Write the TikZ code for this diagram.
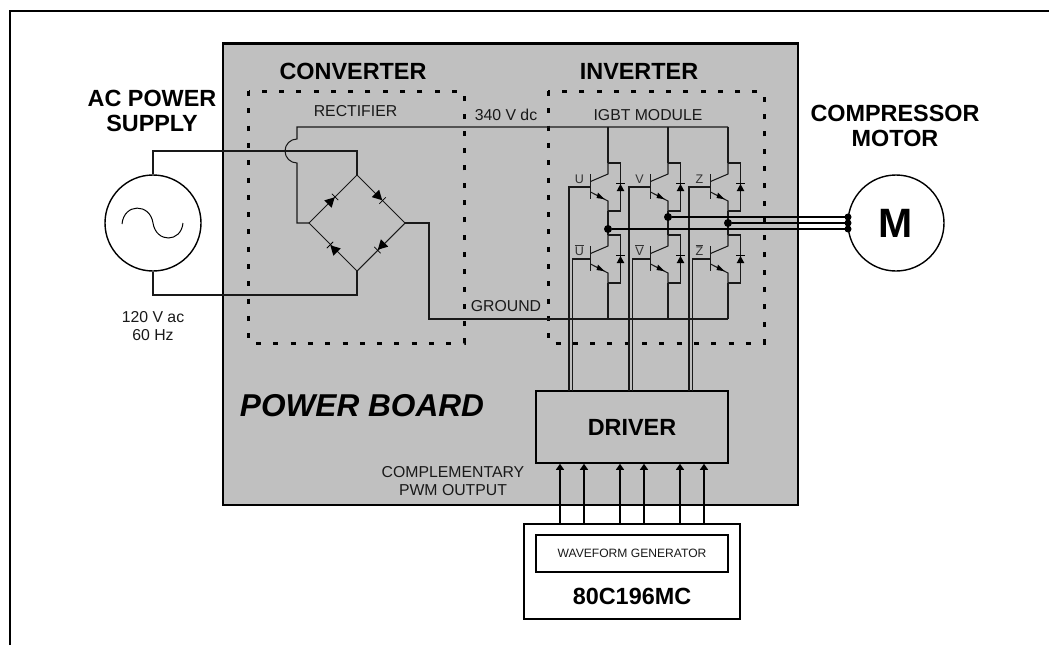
\documentclass[tikz,border=0pt]{standalone}
\usepackage{fontspec}
\setmainfont{Liberation Sans}
\usetikzlibrary{calc,arrows.meta}
\definecolor{boardgray}{gray}{0.753}
\newcommand{\fs}[1]{\fontsize{#1}{#1}\selectfont}
\tikzset{
  x=1pt,y=-1pt,
  wire/.style={draw=black!90,line width=1.05pt},
  heavy/.style={draw=black,line width=1.7pt},
  box/.style={draw=black,line width=1.6pt,inner sep=0pt,outer sep=0pt},
  round/.style={circle,draw=black,line width=1.4pt,minimum size=96pt,inner sep=0pt},
  dotbox/.style={draw=black,line width=3pt,dash pattern=on 5pt off 12.3pt},
  big/.style={font=\fs{23.4}\bfseries,align=center,inner sep=0pt},
  small/.style={font=\fs{15.8},align=center,inner sep=0pt,text=black!90},
  tiny/.style={font=\fs{12.5},inner sep=0pt,text=black!80,anchor=base},
  jdot/.style={circle,fill=black,minimum size=8pt,inner sep=0pt},
  sig/.style={draw=black,line width=1.3pt,-{Triangle[length=6pt,width=8pt]}},
  diode/.pic={
    \fill[black] (4.5,0) -- (-5,-5.2) -- (-5,5.2) -- cycle;
    \draw[line width=.8pt] (5,-4.5) -- (5,4.5);
  },
  igbt/.pic={
    \draw[wire] (0,0) -- (12.5,0) -- (12.5,48) -- (0,48);
    \draw[wire] (-17.5,11) -- (-17.5,36);
    \draw[wire] (-17.5,18.5) -- (0,11) -- (0,0);
    \draw[wire] (-17.5,29) -- (0,38) -- (0,48);
    \fill[black] (-3.5,36.2) -- (-10,29.7) -- (-11.5,35) -- cycle;
    \fill[black] (12.5,21) -- (8.7,28) -- (16.3,28) -- cycle;
    \draw[line width=1.2pt] (8.2,20.5) -- (16.8,20.5);
  },
}
\begin{document}
\begin{tikzpicture}
\useasboundingbox (0,0) rectangle (1049,645);
\fill[white] (0,0) rectangle (1049,645);
% outer frame: left and top only
\draw[draw=black,line width=2pt] (10,645) -- (10,11) -- (1049,11);
% board
\node[box,line width=2.8pt,fill=boardgray,minimum width=575pt,minimum height=461.5pt] (board) at (510.5,274.25) {};
% dotted blocks
\coordinate (convNW) at (248.5,91); \coordinate (convSE) at (464,343);
\coordinate (invNW) at (548,91); \coordinate (invSE) at (764,343);
\draw[dotbox] (convNW) rectangle (convSE);
\draw[dotbox] (invNW) rectangle (invSE);
% titles
\node[big] (tconv) at (353,71) {CONVERTER};
\node[big] (tinv) at (639,71) {INVERTER};
\node[big] (tac) at (152,111) {AC POWER\\[1.2pt]SUPPLY};
\node[big] (tmot) at (895,126) {COMPRESSOR\\[1.2pt]MOTOR};
\node[small] (trect) at (355.5,111) {RECTIFIER};
\node[small] (tdc) at (506,115) {340 V dc};
\node[small] (tigbt) at (648,115) {IGBT MODULE};
\node[small] (tgnd) at (506,306) {GROUND};
\node[small] (tvac) at (153,326) {120 V ac\\[2.2pt]60 Hz};
\node[font=\fs{31.6}\bfseries\itshape,inner sep=0pt] (tboard) at (362,406) {POWER BOARD};
\node[small] (tpwm) at (453,481) {COMPLEMENTARY\\[2.2pt]PWM OUTPUT};
% source and motor
\node[round,fill=white] (src) at (153,223) {};
\node[round,fill=white,font=\fs{41}\bfseries] (motor) at (896,223) {M};
\draw[line width=1pt] (122,224) .. controls (124,203) and (150,203) .. (153,223) .. controls (156,243) and (181,243) .. (183,223);
% rectifier bridge
\coordinate (bT) at (357,175); \coordinate (bL) at (309,223);
\coordinate (bR) at (405,223); \coordinate (bB) at (357,271);
\draw[wire] (bT) -- (bR) -- (bB) -- (bL) -- cycle;
\pic[rotate=45] at (331.5,200.5) {diode};
\pic[rotate=-45] at (379,197) {diode};
\pic[rotate=-135] at (381,246.5) {diode};
\pic[rotate=135] at (333.5,248.5) {diode};
% rails
\coordinate (jTop) at (297,139);
\coordinate (railL) at (297,127); \coordinate (railR) at (728,127);
\coordinate (gndL) at (429,319); \coordinate (gndR) at (728,319);
\draw[wire] (src.north) |- (bT |- 0,151) -- (bT);
\draw[wire] (src.south) |- (bB |- 0,295) -- (bB);
\draw[wire] (railR) -- (railL) -- (jTop) arc[start angle=270,end angle=90,radius=12] -- (297,223) -- (bL);
\draw[wire] (bR) -- (429,223) -- (gndL) -- (gndR);
% IGBT columns
\foreach \x/\u/\l [count=\i] in {608/U/U,668/V/V,728/Z/Z}{
  \coordinate (top\i) at (\x,163);
  \coordinate (low\i) at (\x,235);
  \pic at (top\i) {igbt};
  \pic at (low\i) {igbt};
  \draw[wire] (\x,127) -- (top\i);
  \draw[wire] (\x,211) -- (low\i);
  \draw[wire] (\x,283) -- (\x,319);
  \node[tiny] (lu\i) at (\x-28.5,183.5) {\u};
  \node[tiny] (ll\i) at (\x-28.5,255) {$\overline{\mbox{\l}}$};
}
% driver and controller
\node[box,minimum width=192pt,minimum height=72pt,anchor=north west,font=\fs{23.4}\bfseries] (driver) at (536,391) {DRIVER};
\node[box,fill=white,minimum width=216pt,minimum height=95pt,anchor=north west] (mcu) at (524,524) {};
\node[box,line width=1.2pt,minimum width=192pt,minimum height=37pt,anchor=north west,font=\fs{12.1},text=black!90] (wfg) at (536,535) {WAVEFORM GENERATOR};
\node[big] (mcut) at (632,596) {80C196MC};
% gate drive wires
\foreach \a/\b/\gx in {569/572.2/590.5,629/632.2/650.5,689/692.2/710.5}{
  \coordinate (gu) at (\gx,187); \coordinate (gl) at (\gx,259);
  \draw[wire] (gu) -- (\a,187) -- (\a,391);
  \draw[wire] (gl) -- (\b,259) -- (\b,391);
}
% pwm arrows
\foreach \x [count=\i] in {560,584,620,644,680,704}{
  \coordinate (pin\i) at (\x,463.8);
  \draw[sig] (pin\i |- mcu.north) -- (pin\i);
}
% phases
\coordinate (ph1) at (848,229); \coordinate (ph2) at (848,217); \coordinate (ph3) at (848,223);
\node[jdot] (u0) at (608,229) {}; \node[jdot] (v0) at (668,217) {}; \node[jdot] (z0) at (728,223) {};
\draw[heavy] (u0) -- (ph1); \draw[heavy] (v0) -- (ph2); \draw[heavy] (z0) -- (ph3);
\node[jdot,minimum size=7pt] (m1) at (ph1) {}; \node[jdot,minimum size=7pt] (m2) at (ph2) {}; \node[jdot,minimum size=7pt] (m3) at (ph3) {};
\end{tikzpicture}
\end{document}
